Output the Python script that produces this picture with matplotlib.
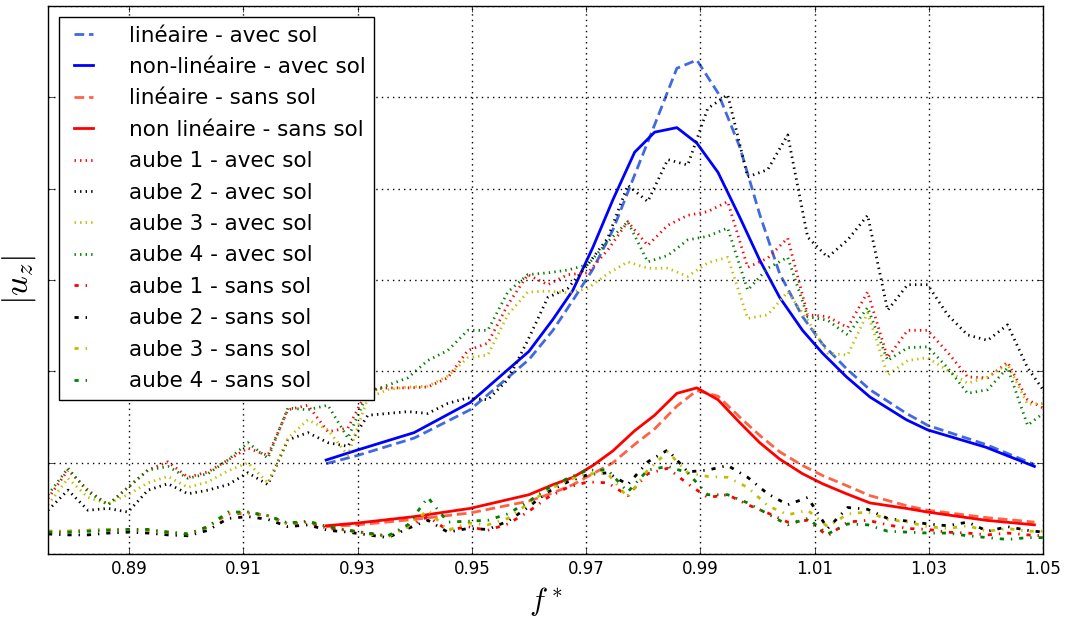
import numpy as np
import matplotlib
matplotlib.use('Agg')
import matplotlib.pyplot as plt

# frequency grid of the measured curves (f*)
freq = [0.8758, 0.8793, 0.8828, 0.8863, 0.8898, 0.8933, 0.8968, 0.9003, 0.9038, 0.9073,
        0.9108, 0.9143, 0.9178, 0.9213, 0.9248, 0.9283, 0.9318, 0.9353, 0.9388, 0.9423,
        0.9458, 0.9493, 0.9528, 0.9563, 0.9598, 0.9633, 0.9668, 0.9703, 0.9738, 0.9773,
        0.9808, 0.9843, 0.9878, 0.9913, 0.9948, 0.9983, 1.0018, 1.0053, 1.0088, 1.0123,
        1.0158, 1.0193, 1.0228, 1.0263, 1.0298, 1.0333, 1.0368, 1.0403, 1.0438, 1.0473,
        1.0500]

# measured |u_z| - avec sol
aube1_avec = [0.61, 0.92, 0.70, 0.54, 0.73, 0.92, 1.01, 0.84, 0.90, 1.03,
              1.16, 1.08, 1.58, 1.63, 1.34, 1.38, 1.80, 1.82, 1.82, 1.83,
              1.93, 2.23, 2.31, 2.73, 3.06, 2.95, 3.06, 3.08, 3.33, 3.64,
              3.38, 3.60, 3.71, 3.75, 3.86, 3.14, 3.24, 3.46, 2.62, 2.60,
              2.48, 2.87, 2.15, 2.45, 2.45, 2.21, 1.94, 1.93, 2.10, 1.69,
              1.60]
aube2_avec = [0.48, 0.70, 0.48, 0.50, 0.46, 0.70, 0.77, 0.66, 0.70, 0.76,
              0.89, 0.76, 1.25, 1.33, 1.22, 1.18, 1.52, 1.54, 1.56, 1.54,
              1.65, 1.71, 1.69, 1.91, 2.34, 2.81, 2.91, 3.17, 3.46, 4.04,
              3.86, 4.32, 4.26, 4.88, 5.03, 4.13, 4.21, 4.59, 3.47, 3.25,
              3.44, 3.71, 2.67, 2.95, 2.95, 2.62, 2.40, 2.34, 2.51, 2.04,
              1.80]
aube3_avec = [0.54, 0.83, 0.62, 0.55, 0.65, 0.78, 0.85, 0.73, 0.79, 0.91,
              1.00, 0.78, 1.27, 1.47, 1.36, 1.08, 1.71, 1.80, 1.83, 1.84,
              1.95, 2.15, 2.18, 2.62, 2.87, 2.88, 2.86, 2.91, 3.07, 3.20,
              3.13, 3.13, 3.04, 3.19, 3.25, 2.58, 2.62, 2.87, 2.56, 2.20,
              2.18, 2.64, 1.96, 2.12, 2.15, 2.01, 1.87, 1.94, 2.08, 1.64,
              1.65]
aube4_avec = [0.65, 0.94, 0.68, 0.54, 0.73, 0.92, 0.96, 0.83, 0.88, 1.03,
              1.22, 1.05, 1.60, 1.58, 1.63, 1.27, 1.77, 1.85, 1.93, 2.12,
              2.23, 2.45, 2.45, 2.87, 3.06, 3.08, 3.11, 3.17, 3.42, 3.64,
              3.20, 3.27, 3.44, 3.48, 3.57, 2.89, 3.13, 3.25, 2.60, 2.56,
              2.40, 2.70, 2.12, 2.26, 2.27, 2.04, 1.76, 1.80, 2.04, 1.41,
              1.54]

# measured |u_z| - sans sol
aube1_sans = [0.25, 0.25, 0.26, 0.27, 0.27, 0.26, 0.24, 0.22, 0.30, 0.44,
              0.45, 0.42, 0.33, 0.35, 0.28, 0.26, 0.23, 0.19, 0.30, 0.41,
              0.26, 0.30, 0.26, 0.33, 0.46, 0.62, 0.73, 0.79, 0.78, 0.64,
              0.88, 0.94, 0.77, 0.62, 0.65, 0.54, 0.45, 0.35, 0.37, 0.20,
              0.35, 0.37, 0.32, 0.28, 0.27, 0.24, 0.23, 0.21, 0.23, 0.21,
              0.20]
aube2_sans = [0.22, 0.21, 0.21, 0.23, 0.24, 0.23, 0.21, 0.20, 0.26, 0.39,
              0.41, 0.38, 0.30, 0.32, 0.26, 0.24, 0.21, 0.18, 0.28, 0.37,
              0.24, 0.28, 0.27, 0.36, 0.51, 0.68, 0.79, 0.87, 0.89, 0.76,
              1.01, 1.14, 0.90, 0.92, 0.97, 0.84, 0.66, 0.54, 0.62, 0.28,
              0.51, 0.49, 0.39, 0.36, 0.33, 0.31, 0.35, 0.25, 0.30, 0.26,
              0.24]
aube3_sans = [0.25, 0.25, 0.26, 0.27, 0.27, 0.26, 0.24, 0.22, 0.30, 0.45,
              0.46, 0.42, 0.33, 0.36, 0.30, 0.26, 0.22, 0.19, 0.30, 0.48,
              0.26, 0.34, 0.32, 0.39, 0.55, 0.70, 0.81, 0.88, 0.88, 0.62,
              0.92, 1.12, 0.89, 0.85, 0.84, 0.73, 0.53, 0.43, 0.48, 0.30,
              0.44, 0.46, 0.38, 0.35, 0.30, 0.28, 0.31, 0.25, 0.28, 0.25,
              0.25]
aube4_sans = [0.24, 0.24, 0.25, 0.26, 0.27, 0.27, 0.24, 0.22, 0.30, 0.46,
              0.46, 0.42, 0.34, 0.36, 0.30, 0.26, 0.23, 0.20, 0.32, 0.62,
              0.35, 0.36, 0.37, 0.44, 0.57, 0.72, 0.83, 0.92, 0.92, 0.68,
              0.92, 0.96, 0.89, 0.65, 0.65, 0.56, 0.44, 0.32, 0.39, 0.22,
              0.33, 0.32, 0.25, 0.24, 0.23, 0.23, 0.20, 0.18, 0.16, 0.18,
              0.18]

# computed response (linear / non-linear model)
freq_model = [0.9245, 0.9300, 0.9399, 0.9497, 0.9600, 0.9642, 0.9677, 0.9712, 0.9747,
              0.9785, 0.9820, 0.9859, 0.9894, 0.9931, 0.9969, 1.0004, 1.0039, 1.0079,
              1.0114, 1.0156, 1.0197, 1.0261, 1.0298, 1.0400, 1.0485]
lin_avec = [0.99, 1.08, 1.27, 1.58, 2.13, 2.45, 2.78, 3.12, 3.55, 4.15, 4.70, 5.32, 5.41,
            5.05, 4.46, 3.72, 3.07, 2.60, 2.30, 2.03, 1.80, 1.54, 1.41, 1.20, 0.98]
nonlin_avec = [1.03, 1.14, 1.33, 1.66, 2.22, 2.57, 2.89, 3.36, 3.88, 4.40, 4.62, 4.67, 4.50,
               4.18, 3.69, 3.22, 2.81, 2.45, 2.20, 1.94, 1.72, 1.47, 1.36, 1.17, 0.96]
lin_sans = [0.30, 0.32, 0.38, 0.45, 0.58, 0.67, 0.76, 0.88, 1.00, 1.20, 1.37, 1.62, 1.79,
            1.73, 1.50, 1.30, 1.12, 0.97, 0.86, 0.75, 0.64, 0.53, 0.48, 0.40, 0.35]
nonlin_sans = [0.31, 0.34, 0.41, 0.50, 0.65, 0.76, 0.84, 0.97, 1.13, 1.35, 1.52, 1.76, 1.82,
               1.69, 1.44, 1.22, 1.04, 0.88, 0.77, 0.66, 0.56, 0.50, 0.46, 0.37, 0.32]

plt.style.use('classic')
plt.rcParams['font.family'] = ['DejaVu Sans']

fig = plt.figure(figsize=(10.67, 6.17), dpi=100, facecolor='white')
ax = fig.add_axes([0.045, 0.102, 0.9325, 0.888])

ax.plot(freq_model, lin_avec, '--', dashes=(7, 3.5), color='royalblue', lw=2,
        label=u'linéaire - avec sol')
ax.plot(freq_model, nonlin_avec, '-', color='b', lw=2, label=u'non-linéaire - avec sol')
ax.plot(freq_model, lin_sans, '--', dashes=(7, 3.5), color='tomato', lw=2,
        label=u'linéaire - sans sol')
ax.plot(freq_model, nonlin_sans, '-', color='r', lw=2, label=u'non linéaire - sans sol')

ax.plot(freq, aube1_avec, ':', color='r', lw=2, label='aube 1 - avec sol')
ax.plot(freq, aube2_avec, ':', color='k', lw=2, label='aube 2 - avec sol')
ax.plot(freq, aube3_avec, ':', color='y', lw=2, label='aube 3 - avec sol')
ax.plot(freq, aube4_avec, ':', color='g', lw=2, label='aube 4 - avec sol')
ax.plot(freq, aube1_sans, '-.', color='r', lw=2, label='aube 1 - sans sol')
ax.plot(freq, aube2_sans, '-.', color='k', lw=2, label='aube 2 - sans sol')
ax.plot(freq, aube3_sans, '-.', color='y', lw=2, label='aube 3 - sans sol')
ax.plot(freq, aube4_sans, '-.', color='g', lw=2, label='aube 4 - sans sol')

ax.set_xlim(freq[0], freq[-1])
ax.set_ylim(0, 6)
ax.set_xticks([0.89, 0.91, 0.93, 0.95, 0.97, 0.99, 1.01, 1.03, 1.05])
ax.set_xticklabels(['0.89', '0.91', '0.93', '0.95', '0.97', '0.99', '1.01', '1.03', '1.05'])
ax.set_yticks([0, 1, 2, 3, 4, 5, 6])
ax.set_yticklabels([])
ax.tick_params(labelsize=12)
ax.grid(True, color='k', linestyle=':', linewidth=1)

ax.set_xlabel(r'$f^*$', fontsize=22)
ax.set_ylabel(r'$|u_z|$', fontsize=25)
ax.yaxis.set_label_coords(-0.01, 0.5)

ax.legend(loc='upper left', fontsize=15.5, handlelength=1.5, handletextpad=1.35,
          labelspacing=0.53, borderaxespad=0.5, frameon=True, fancybox=False)

plt.savefig('out.png', dpi=100, facecolor='white')
